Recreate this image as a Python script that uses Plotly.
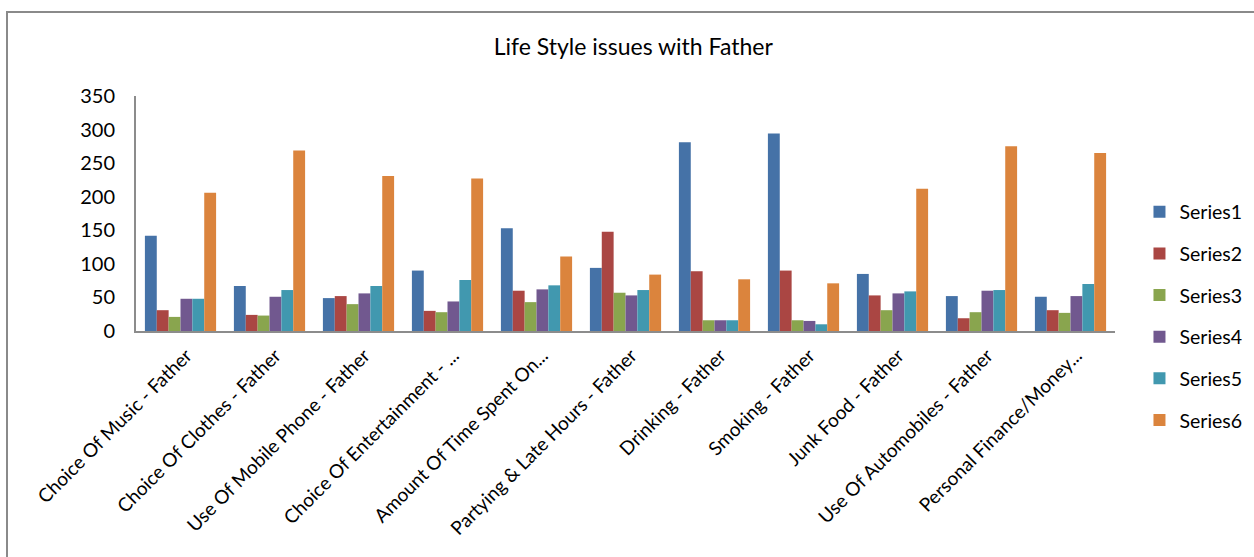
import plotly.graph_objects as go

categories = [
    "Choice Of Music - Father",
    "Choice Of Clothes - Father",
    "Use Of Mobile Phone - Father",
    "Choice Of Entertainment - ...",
    "Amount Of Time Spent On...",
    "Partying & Late Hours - Father",
    "Drinking - Father",
    "Smoking - Father",
    "Junk Food - Father",
    "Use Of Automobiles - Father",
    "Personal Finance/Money...",
]

series1 = [142, 67, 49, 90, 153, 94, 281, 294, 85, 52, 51]
series2 = [31, 24, 52, 30, 60, 148, 89, 90, 53, 19, 31]
series3 = [21, 23, 40, 28, 43, 57, 16, 16, 31, 28, 27]
series4 = [48, 51, 56, 44, 62, 53, 16, 15, 56, 60, 52]
series5 = [48, 61, 67, 76, 68, 61, 16, 10, 59, 61, 70]
series6 = [206, 269, 231, 227, 111, 84, 77, 71, 212, 275, 265]

series_names = ["Series1", "Series2", "Series3", "Series4", "Series5", "Series6"]
series_values = [series1, series2, series3, series4, series5, series6]
series_colors = ["#4572A7", "#AA4643", "#89A54E", "#71588F", "#4198AF", "#DB843D"]

y_ticks = [0, 50, 100, 150, 200, 250, 300, 350]

FONT = "Lato, Calibri, sans-serif"

fig = go.Figure()
for name, vals, color in zip(series_names, series_values, series_colors):
    fig.add_trace(go.Bar(
        name=name, x=categories, y=vals,
        marker=dict(color=color, line=dict(width=0)),
        legendgroup=name,
    ))

fig.update_layout(
    width=1254, height=557,
    margin=dict(l=136, r=139, t=96, b=226, autoexpand=False),
    paper_bgcolor="white", plot_bgcolor="white",
    barmode="group", bargap=0.2, bargroupgap=0,
    font=dict(family=FONT, size=19, color="black"),
    title=dict(
        text="Life Style issues with Father",
        x=0.505, xref="container", xanchor="center",
        y=1 - 47 / 557, yref="container", yanchor="middle",
        font=dict(family=FONT, size=23, color="black"),
    ),
    legend=dict(
        x=1.025, xanchor="left", y=0.589, yanchor="top",
        font=dict(family=FONT, size=19.5, color="black"),
        tracegroupgap=13.3, itemwidth=30, maxheight=600,
        bgcolor="rgba(0,0,0,0)",
    ),
    showlegend=True,
)

fig.update_xaxes(
    type="category", automargin=False,
    showgrid=False, zeroline=False,
    showline=True, linecolor="#8c8c8c", linewidth=2,
    ticks="", tickangle=-45,
    tickfont=dict(family=FONT, size=19, color="black"),
    ticklabelshift=6, ticklabelstandoff=4,
)
fig.update_yaxes(
    range=[0, 350], tickvals=y_ticks, automargin=False,
    showgrid=False, zeroline=False,
    showline=True, linecolor="#8c8c8c", linewidth=2,
    ticks="", ticklabelstandoff=15,
    tickfont=dict(family=FONT, size=20, color="black"),
)

# outer chart frame (top and left edges visible)
fig.add_shape(
    type="rect", xref="paper", yref="paper",
    x0=(7 - 136) / 979, x1=1.3, y0=-2, y1=(331 - 12) / 235,
    line=dict(color="#8a8a8a", width=2), fillcolor="rgba(0,0,0,0)",
    layer="below",
)

fig.write_html("out.html")
